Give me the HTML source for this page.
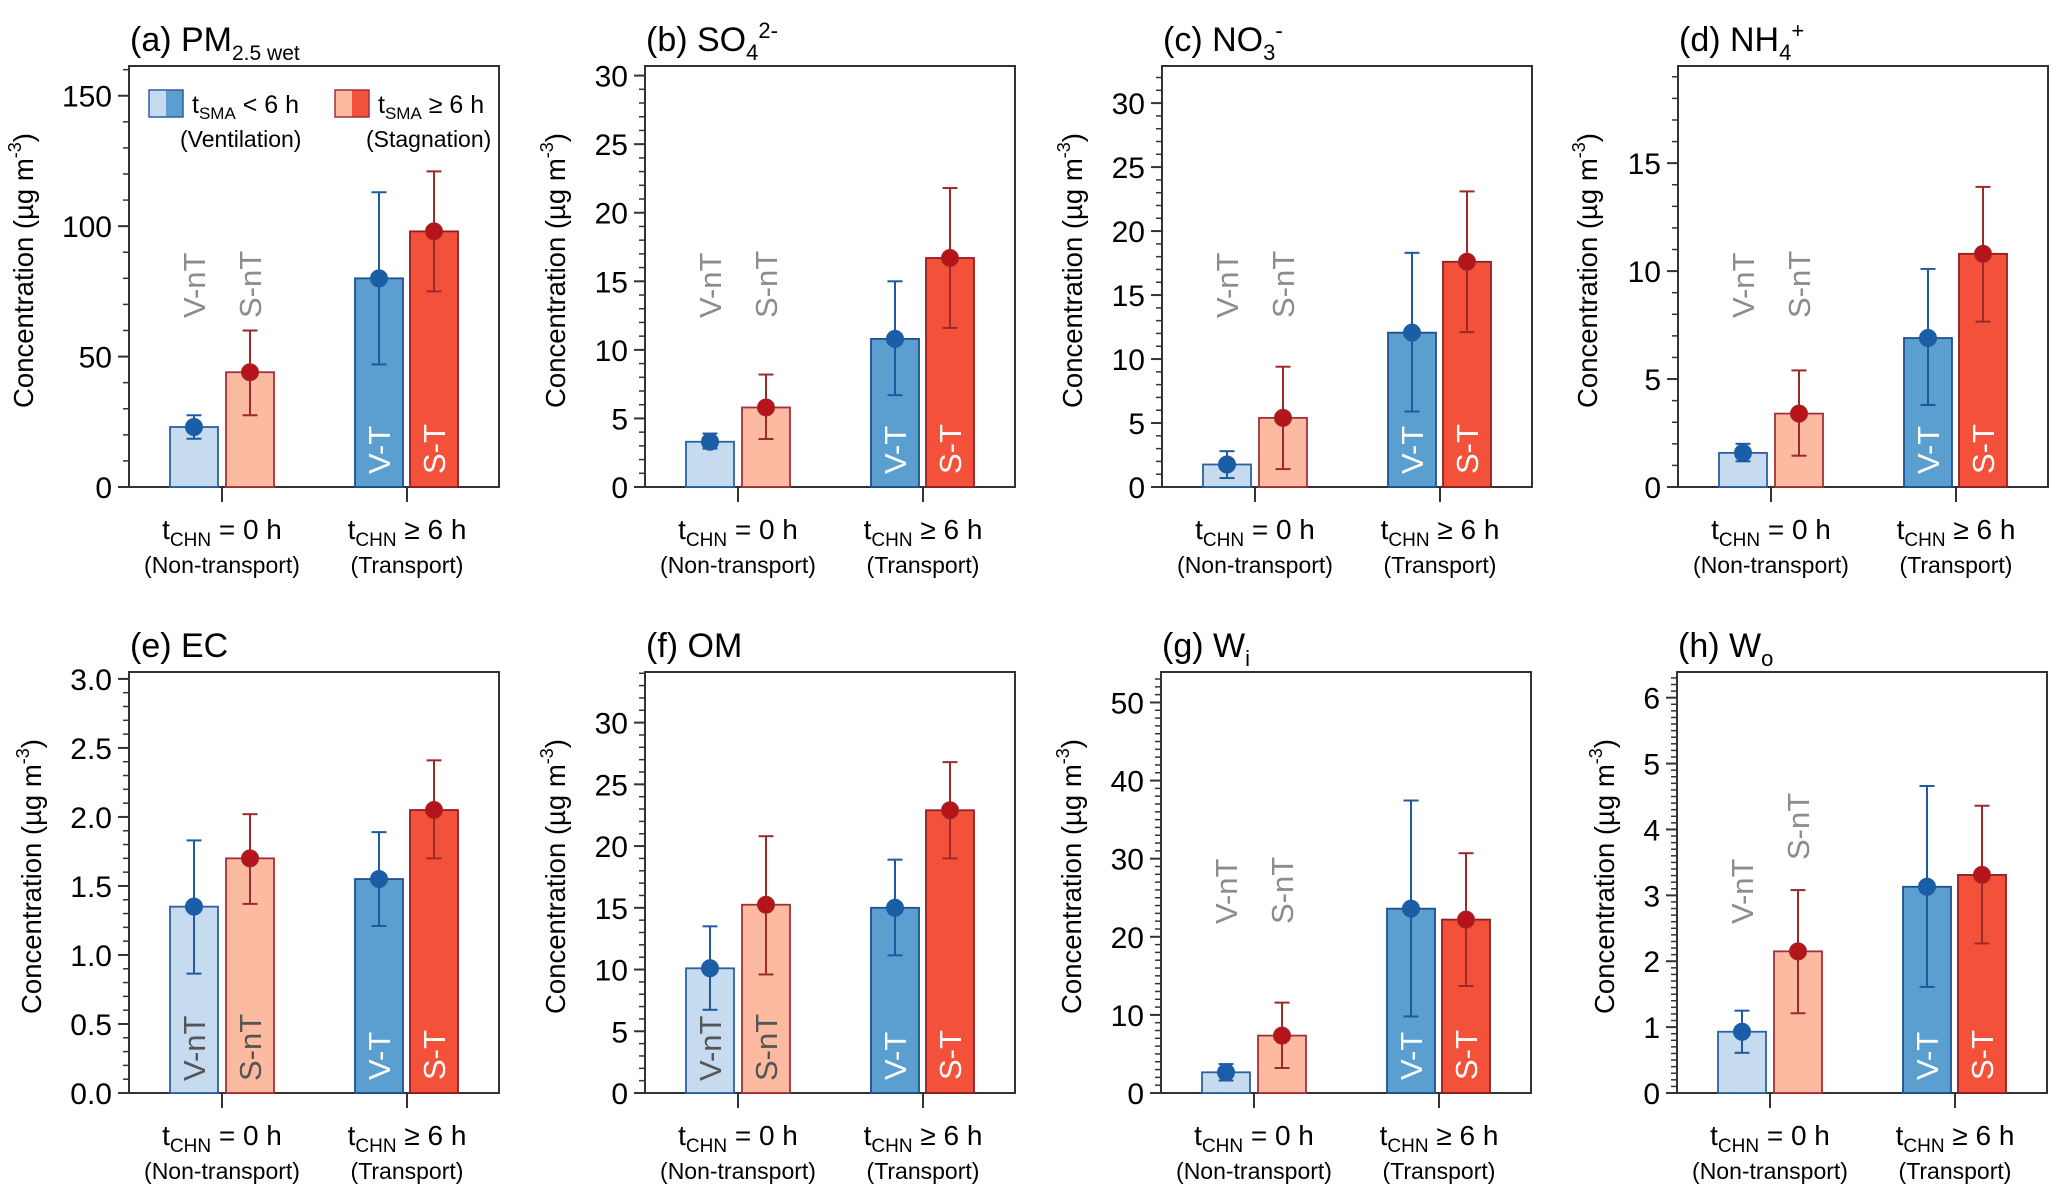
<!DOCTYPE html>
<html><head><meta charset="utf-8"><style>
html,body{margin:0;padding:0;background:#fff;}
svg{display:block;font-family:"Liberation Sans",Arial,sans-serif;}
</style></head><body>
<svg id="fig" width="2067" height="1200" viewBox="0 0 2067 1200" xmlns="http://www.w3.org/2000/svg"></svg>
<script>
// ---- data ----
const panelIds = ['a','b','c','d','e','f','g','h'];
const groupNames = ['V-nT','S-nT','V-T','S-T'];
const vntMean = [23, 3.3, 1.76, 1.58, 1.35, 10.1, 2.65, 0.93];
const vntLo   = [18.5, 2.8, 0.7, 1.19, 0.865, 6.74, 1.6, 0.61];
const vntHi   = [27.5, 3.9, 2.8, 2.0, 1.83, 13.5, 3.7, 1.25];
const sntMean = [44, 5.8, 5.4, 3.4, 1.70, 15.25, 7.35, 2.15];
const sntLo   = [27.5, 3.5, 1.4, 1.45, 1.37, 9.6, 3.2, 1.21];
const sntHi   = [60, 8.2, 9.4, 5.4, 2.02, 20.8, 11.57, 3.08];
const vtMean  = [80, 10.8, 12.06, 6.9, 1.55, 15.0, 23.6, 3.13];
const vtLo    = [47, 6.7, 5.9, 3.8, 1.21, 11.15, 9.8, 1.61];
const vtHi    = [113, 15.0, 18.3, 10.1, 1.89, 18.9, 37.45, 4.66];
const stMean  = [98, 16.7, 17.6, 10.8, 2.05, 22.9, 22.2, 3.31];
const stLo    = [75, 11.6, 12.1, 7.66, 1.70, 19.0, 13.7, 2.27];
const stHi    = [121, 21.8, 23.1, 13.9, 2.41, 26.8, 30.7, 4.36];
const yMaxVals = [161.4, 30.7, 32.9, 19.5, 3.05, 34.1, 53.9, 6.39];
const minorSteps = [10, 1, 1, 1, 0.1, 1, 1, 0.1];
const tickLabels = [
  ['0','50','100','150'],
  ['0','5','10','15','20','25','30'],
  ['0','5','10','15','20','25','30'],
  ['0','5','10','15'],
  ['0.0','0.5','1.0','1.5','2.0','2.5','3.0'],
  ['0','5','10','15','20','25','30'],
  ['0','10','20','30','40','50'],
  ['0','1','2','3','4','5','6']
];
const titleHtml = [
  '(a) PM<tspan font-size="21" dy="9">2.5 wet</tspan>',
  '(b) SO<tspan font-size="22" dy="9">4</tspan><tspan font-size="22" dy="-22">2-</tspan>',
  '(c) NO<tspan font-size="22" dy="9">3</tspan><tspan font-size="22" dy="-22">-</tspan>',
  '(d) NH<tspan font-size="22" dy="9">4</tspan><tspan font-size="22" dy="-22">+</tspan>',
  '(e) EC',
  '(f) OM',
  '(g) W<tspan font-size="22" dy="9">i</tspan>',
  '(h) W<tspan font-size="22" dy="9">o</tspan>'
];
// ---- layout ----
const frameLeft = [129,645,1162,1678,129,645,1161,1677];
const frameTop = [66,66,66,66,672,672,672,672];
const FW = 370, FH = 421;
const barOff = [41,97,226,281], BW = 48;
const catOff = [93, 278];
const nTPos = ['above','above','above','above','inside','inside','above','above'];
const nTLabelY = [[252,252],[252,252],[252,252],[252,252],null,null,[252,252],[252,188]];
const yLabelOff = [96,80,80,81,88,80,80,63];

const NS='http://www.w3.org/2000/svg';
const svg=document.getElementById('fig');
function mk(tag, attrs, parent){const e=document.createElementNS(NS,tag);for(const k in attrs)e.setAttribute(k,attrs[k]);(parent||svg).appendChild(e);return e;}

const fills=['#c6dbef','#fcbba1','#5a9fcf','#f4513a'];
const edges=['#2c5fa0','#a0303a','#1f4f8f','#8e1f22'];
const errC=['#1f5aa0','#9b2a2a','#1f5aa0','#9b2a2a'];
const dotC=['#1b5ea8','#b5141b','#1b5ea8','#b5141b'];

panelIds.forEach((pid,i)=>{
  const g=mk('g',{});
  
  
  const L=frameLeft[i], T=frameTop[i], B=T+FH;
  const ymax=yMaxVals[i];
  const y=v=>B - v/ymax*FH;
  const t=mk('text',{x:L+1,y:T-15,'font-size':34,fill:'#000'},g);
  
  
  t.innerHTML=titleHtml[i];
  const fr=mk('rect',{x:L,y:T,width:FW,height:FH,fill:'none',stroke:'#333','stroke-width':2},g);
  
  
  const ms=minorSteps[i];
  for(let k=0;k*ms<=ymax+1e-9;k++){
    const yy=y(k*ms);
    const tk=mk('line',{x1:L-6,x2:L,y1:yy,y2:yy,stroke:'#333','stroke-width':1.5},g);
    
    
  }
  tickLabels[i].forEach(lbl=>{
    const v=parseFloat(lbl), yy=y(v);
    const tk=mk('line',{x1:L-11,x2:L,y1:yy,y2:yy,stroke:'#333','stroke-width':2},g);
    
    
    const tl=mk('text',{x:L-17,y:yy+11,'font-size':30,'text-anchor':'end',fill:'#000'},g);
    
    
    tl.textContent=lbl;
  });
  const cy=(T+B)/2-6, cx=L-yLabelOff[i];
  const yl=mk('text',{x:cx,y:cy,'font-size':27.5,'text-anchor':'middle',transform:`rotate(-90 ${cx} ${cy})`,fill:'#000'},g);
  
  
  yl.innerHTML='Concentration (µg m<tspan font-size="18" dy="-12">-3</tspan><tspan dy="12">)</tspan>';
  const catMain=['= 0 h','≥ 6 h'], catSub=['(Non-transport)','(Transport)'];
  catOff.forEach((co,j)=>{
    const xx=L+co;
    const tk=mk('line',{x1:xx,x2:xx,y1:B,y2:B+15,stroke:'#333','stroke-width':2},g);
    
    
    const l1=mk('text',{x:xx,y:B+52,'font-size':28,'text-anchor':'middle',fill:'#000'},g);
    
    
    l1.innerHTML='t<tspan font-size="19" dy="7">CHN</tspan><tspan dy="-7"> '+catMain[j]+'</tspan>';
    const l2=mk('text',{x:xx,y:B+86,'font-size':23,'text-anchor':'middle',fill:'#000'},g);
    
    
    l2.textContent=catSub[j];
  });
  const means=[vntMean[i],sntMean[i],vtMean[i],stMean[i]];
  const los=[vntLo[i],sntLo[i],vtLo[i],stLo[i]];
  const his=[vntHi[i],sntHi[i],vtHi[i],stHi[i]];
  means.forEach((m,j)=>{
    const x0=L+barOff[j], xc=x0+BW/2;
    const r=mk('rect',{x:x0,y:y(m),width:BW,height:B-y(m),fill:fills[j],stroke:edges[j],'stroke-width':1.8},g);
    
    
    let ly, col;
    if(j<2){
      if(nTPos[i]==='inside'){ly=B-12;col='#555';}
      else {ly=T+nTLabelY[i][j];col='#8c8c8c';}
    } else {ly=B-13;col='#fff';}
    const lx=xc+11;
    const bl=mk('text',{x:lx,y:ly,'font-size':31,fill:col,transform:`rotate(-90 ${lx} ${ly})`},g);
    
    
    bl.textContent=groupNames[j];
    const eg=mk('g',{stroke:errC[j],'stroke-width':2},g);
    
    
    mk('line',{x1:xc,x2:xc,y1:y(los[j]),y2:y(his[j])},eg);
    mk('line',{x1:xc-7.5,x2:xc+7.5,y1:y(los[j]),y2:y(los[j])},eg);
    mk('line',{x1:xc-7.5,x2:xc+7.5,y1:y(his[j]),y2:y(his[j])},eg);
    const d=mk('circle',{cx:xc,cy:y(m),r:8.5,fill:dotC[j],stroke:errC[j],'stroke-width':1},g);
    
    
  });
});

(function(){
  const lg=mk('g',{});
  
  
  const items=[{x:149,c1:'#c6dbef',c2:'#5a9fcf',e:'#2c5fa0',tx:192,op:'< 6 h',sub:'(Ventilation)',sx:180},
               {x:335,c1:'#fcbba1',c2:'#f4513a',e:'#a0303a',tx:378,op:'≥ 6 h',sub:'(Stagnation)',sx:366}];
  items.forEach((it)=>{
    const e=mk('g',{},lg);
    
    
    mk('rect',{x:it.x,y:90,width:17,height:27,fill:it.c1},e);
    mk('rect',{x:it.x+17,y:90,width:17,height:27,fill:it.c2},e);
    mk('rect',{x:it.x,y:90,width:34,height:27,fill:'none',stroke:it.e,'stroke-width':1.5},e);
    const t=mk('text',{x:it.tx,y:113,'font-size':25,fill:'#000'},e);
    t.innerHTML='t<tspan font-size="17" dy="6">SMA</tspan><tspan dy="-6"> '+it.op+'</tspan>';
    const s=mk('text',{x:it.sx,y:147,'font-size':23,fill:'#000'},e);
    s.textContent=it.sub;
  });
})();
</script>
</body></html>
